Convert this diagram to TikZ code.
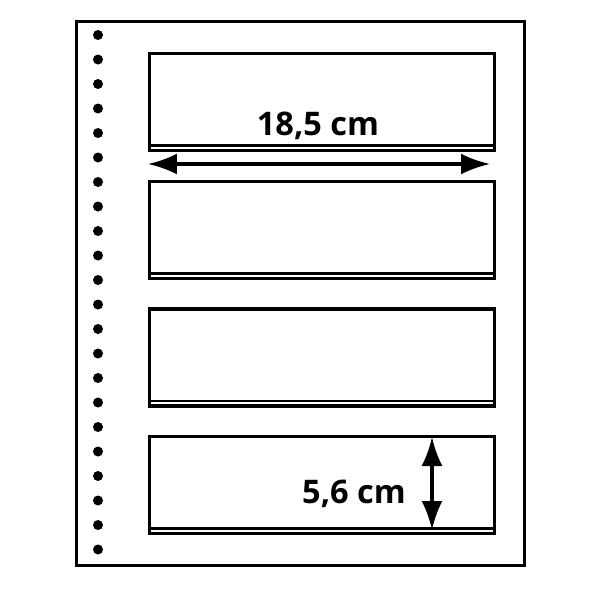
\documentclass[tikz,border=0pt]{standalone}
\usepackage{fontspec}
\setsansfont{Open Sans}
\usetikzlibrary{arrows.meta,positioning}
\begin{document}
\begin{tikzpicture}
			[x=0.02cm,y=-0.02cm,
			every node/.style={inner sep=0pt},
			sheet/.style={draw,line width=1.8pt,minimum width=8.96cm,minimum height=10.88cm,anchor=north west},
			pocket/.style={draw,line width=1.8pt,minimum width=6.9cm,minimum height=1.94cm,anchor=north west},
			hole/.style={circle,fill,minimum size=0.2cm},
			size/.style={font=\sffamily\bfseries\fontsize{18.5}{19}\selectfont},
			measure/.style={line width=1.8pt,{Latex[length=0.58cm,width=0.42cm]}-{Latex[length=0.58cm,width=0.42cm]}}]
			\useasboundingbox (0,0) rectangle (600,600);
			\node[sheet] (S) at (75,20) {};
			\foreach \i in {0,...,21}
				\node[hole] (H\i) at (98,35+24.5*\i) {};
			\foreach \i in {1,...,4} {
				\node[pocket] (P\i) at (148,52+127.7*\i-127.7) {};
				\draw[line width=1.5pt] ([yshift=0.13cm]P\i.south west) -- ([yshift=0.13cm]P\i.south east);
			}
			\coordinate (WL) at (148,164);
			\coordinate (WR) at (490,164);
			\coordinate (HT) at (432,437);
			\coordinate (HB) at (432,530);
			\node[size] (W) at (318,126) {18,5 cm};
			\node[size] (H) at (354,494) {5,6 cm};
			\draw[measure] (WL) -- (WR);
			\draw[measure] (HT) -- (HB);
		\end{tikzpicture}
\end{document}
